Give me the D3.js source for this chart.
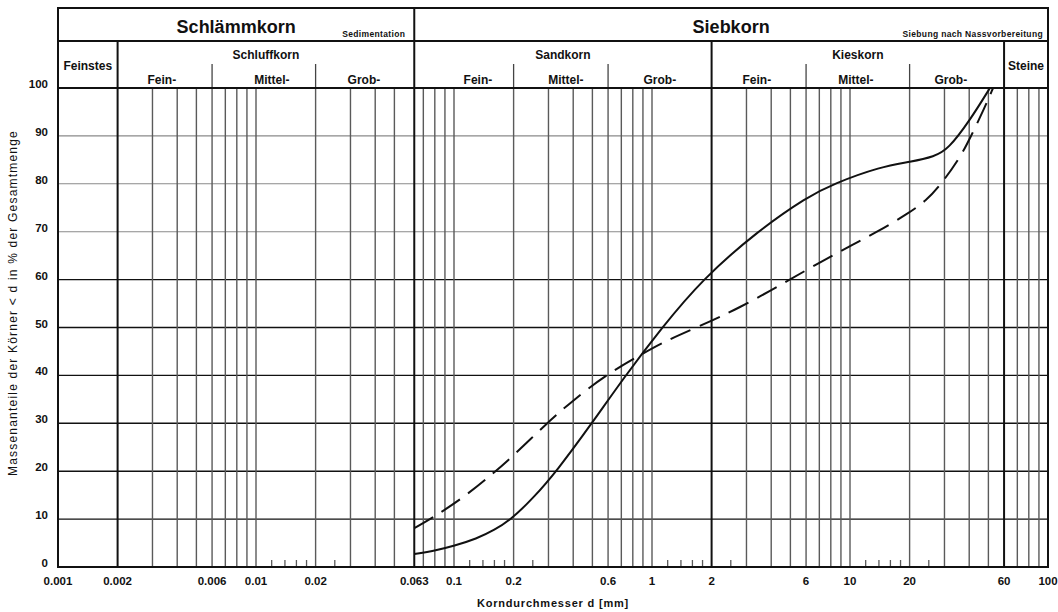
<!DOCTYPE html>
<html>
<head>
<meta charset="utf-8">
<script src="https://cdn.jsdelivr.net/npm/d3@7"></script>
<style>
  body { margin: 0; background: #fff; }
  svg { display: block; }
  text { font-family: "Liberation Sans", Arial, Helvetica, sans-serif; fill: #111; }
</style>
</head>
<body>
<svg id="chart" width="1058" height="612"></svg>
<script>
// Grain size distribution (Körnungslinie): passing mass in % versus diameter in mm

// Curve 1 (solid line)
const solidDiam = [0.063, 0.08, 0.1, 0.13, 0.16, 0.195, 0.25, 0.33, 0.497, 0.72, 1.123, 1.79, 3.38, 6.1, 8.24, 14.3, 20.3, 26.7, 31.3, 40.4, 50.9];
const solidPass = [2.7, 3.4, 4.4, 5.9, 7.7, 10, 14.3, 20, 30, 39.5, 50, 60, 70, 77.3, 80, 83.6, 84.6, 85.7, 87.2, 93.3, 100];

// Curve 2 (dashed line)
const dashDiam = [0.063, 0.0788, 0.109, 0.147, 0.195, 0.295, 0.4, 0.579, 0.9, 1.2, 1.68, 2.75, 4.98, 7.1, 9.9, 13.8, 19.5, 24.3, 28.6, 36, 40.4, 48, 52.8];
const dashPass = [8.1, 10.4, 14.2, 18.5, 22.8, 30.1, 34.8, 40, 44.6, 47.4, 50, 54, 60, 63.7, 66.9, 70, 73.7, 76.5, 79.7, 85.5, 89.5, 96, 100];

// Axis ticks
const xTickLabels = [0.001, 0.002, 0.006, 0.01, 0.02, 0.063, 0.1, 0.2, 0.6, 1, 2, 6, 10, 20, 60, 100];
const yTicks = [0, 10, 20, 30, 40, 50, 60, 70, 80, 90, 100];

// Full-height grid lines, short minor ticks at the bottom, and the heavy class boundaries
const gridDiam = [0.003, 0.004, 0.005, 0.006, 0.007, 0.008, 0.009, 0.01, 0.02, 0.03, 0.04, 0.05,
                  0.07, 0.08, 0.09, 0.1, 0.2, 0.3, 0.4, 0.5, 0.6, 0.7, 0.8, 0.9, 1,
                  3, 4, 5, 6, 7, 8, 9, 10, 20, 30, 40, 50, 70, 80, 90];
const minorDiam = [0.012, 0.014, 0.016, 0.018, 0.025, 0.12, 0.14, 0.16, 0.18, 0.25,
                   1.2, 1.4, 1.6, 1.8, 2.5, 12, 14, 16, 18, 25];
const boundaryDiam = [0.002, 0.063, 2, 60];

// Header: soil classes
const mainClasses = ["Schlämmkorn", "Siebkorn"];
const mainBounds = [[0.001, 0.063], [0.063, 100]];
const methodNotes = ["Sedimentation", "Siebung nach Nassvorbereitung"];
const noteInset = [9, 5];
const groupNames = ["Feinstes", "Schluffkorn", "Sandkorn", "Kieskorn", "Steine"];
const groupBounds = [[0.001, 0.002], [0.002, 0.063], [0.063, 2], [2, 60], [60, 100]];
const subNames = ["Fein-", "Mittel-", "Grob-", "Fein-", "Mittel-", "Grob-", "Fein-", "Mittel-", "Grob-"];
const subBounds = [[0.002, 0.006], [0.006, 0.02], [0.02, 0.063],
                   [0.063, 0.2], [0.2, 0.6], [0.6, 2],
                   [2, 6], [6, 20], [20, 60]];
const subShift = [-3, 8, -1, 14, 5, 0, -2, -2, -6];
const subDividers = [0.006, 0.02, 0.2, 0.6, 6, 20];

const svg = d3.select("#chart");
svg.append("rect").attr("width", 1058).attr("height", 612).attr("fill", "#fff");

const edgeL = 58, edgeR = 1048, edgeT = 8, rowSplit = 41, plotTop = 88, plotBottom = 567;

const x = d3.scaleLog().domain([0.001, 100]).range([edgeL, edgeR]);
const y = d3.scaleLinear().domain([0, 100]).range([plotBottom, plotTop]);

// Horizontal grid
svg.append("g").selectAll("line")
  .data(yTicks.filter(v => v > 0 && v < 100))
  .join("line")
  .attr("x1", edgeL).attr("x2", edgeR)
  .attr("y1", d => y(d)).attr("y2", d => y(d))
  .attr("stroke", d => d >= 70 ? "#8a8a8a" : "#111")
  .attr("stroke-width", d => d >= 70 ? 1.1 : 1.4);

// Vertical grid
svg.append("g").selectAll("line")
  .data(gridDiam)
  .join("line")
  .attr("x1", d => x(d)).attr("x2", d => x(d))
  .attr("y1", plotTop).attr("y2", plotBottom)
  .attr("stroke", "#5a5a5a").attr("stroke-width", 1.4);

// Minor ticks
svg.append("g").selectAll("line")
  .data(minorDiam)
  .join("line")
  .attr("x1", d => x(d)).attr("x2", d => x(d))
  .attr("y1", plotBottom - 7).attr("y2", plotBottom)
  .attr("stroke", "#5a5a5a").attr("stroke-width", 1.3);

// Header sub-dividers
svg.append("g").selectAll("line")
  .data(subDividers)
  .join("line")
  .attr("x1", d => x(d)).attr("x2", d => x(d))
  .attr("y1", 64).attr("y2", plotTop)
  .attr("stroke", "#444").attr("stroke-width", 1.3);

// Class boundaries
svg.append("g").selectAll("line")
  .data(boundaryDiam)
  .join("line")
  .attr("x1", d => x(d)).attr("x2", d => x(d))
  .attr("y1", d => d === 0.063 ? edgeT : rowSplit).attr("y2", plotBottom)
  .attr("stroke", "#111").attr("stroke-width", 2);

// Frame and header rows
const frame = svg.append("g").attr("stroke", "#111").attr("stroke-width", 2).attr("fill", "none");
frame.append("rect").attr("x", edgeL).attr("y", edgeT).attr("width", edgeR - edgeL).attr("height", plotBottom - edgeT);
frame.append("line").attr("x1", edgeL).attr("x2", edgeR).attr("y1", rowSplit).attr("y2", rowSplit);
frame.append("line").attr("x1", edgeL).attr("x2", edgeR).attr("y1", plotTop).attr("y2", plotTop);

// Curves (smoothed B-spline through the read-off points)
const clip = svg.append("clipPath").attr("id", "plot-clip");
clip.append("rect").attr("x", edgeL).attr("y", plotTop - 1).attr("width", edgeR - edgeL).attr("height", plotBottom - plotTop + 1);

const line = d3.line()
  .x(d => x(d[0]))
  .y(d => y(d[1]))
  .curve(d3.curveBasis);

const curves = svg.append("g").attr("clip-path", "url(#plot-clip)").attr("fill", "none")
  .attr("stroke", "#111").attr("stroke-width", 2).attr("stroke-linejoin", "round");
curves.append("path").attr("d", line(d3.zip(solidDiam, solidPass)));
curves.append("path").attr("d", line(d3.zip(dashDiam, dashPass))).attr("stroke-dasharray", "22,10");

// Header texts
const mid = b => (x(b[0]) + x(b[1])) / 2;

svg.append("g").selectAll("text")
  .data(mainClasses)
  .join("text")
  .attr("x", (d, i) => mid(mainBounds[i]))
  .attr("y", 33)
  .attr("text-anchor", "middle")
  .attr("font-size", 18).attr("font-weight", "bold")
  .text(d => d);

svg.append("g").selectAll("text")
  .data(methodNotes)
  .join("text")
  .attr("x", (d, i) => x(mainBounds[i][1]) - noteInset[i])
  .attr("y", 37)
  .attr("text-anchor", "end")
  .attr("font-size", 8.5).attr("font-weight", "bold")
  .attr("letter-spacing", 0.35)
  .text(d => d);

svg.append("g").selectAll("text")
  .data(groupNames)
  .join("text")
  .attr("x", (d, i) => mid(groupBounds[i]))
  .attr("y", (d, i) => (i === 0 || i === 4) ? 70 : 59)
  .attr("text-anchor", "middle")
  .attr("font-size", 12).attr("font-weight", "bold")
  .text(d => d);

svg.append("g").selectAll("text")
  .data(subNames)
  .join("text")
  .attr("x", (d, i) => mid(subBounds[i]) + subShift[i])
  .attr("y", 83.5)
  .attr("text-anchor", "middle")
  .attr("font-size", 12).attr("font-weight", "bold")
  .text(d => d);

// Axis labels
svg.append("g").selectAll("text")
  .data(xTickLabels)
  .join("text")
  .attr("x", d => x(d))
  .attr("y", 585)
  .attr("text-anchor", "middle")
  .attr("font-size", 11.5).attr("font-weight", "bold")
  .text(d => String(d));

svg.append("g").selectAll("text")
  .data(yTicks)
  .join("text")
  .attr("x", 48)
  .attr("y", d => y(d))
  .attr("text-anchor", "end")
  .attr("font-size", 11.5).attr("font-weight", "bold")
  .text(d => d);

svg.append("text")
  .attr("x", (edgeL + edgeR) / 2)
  .attr("y", 607)
  .attr("text-anchor", "middle")
  .attr("font-size", 11).attr("font-weight", "bold")
  .attr("letter-spacing", 0.8)
  .text("Korndurchmesser d [mm]");

svg.append("text")
  .attr("transform", "translate(17,303) rotate(-90)")
  .attr("text-anchor", "middle")
  .attr("font-size", 12)
  .attr("letter-spacing", 1.2)
  .text("Massenanteile der Körner < d in % der Gesamtmenge");
</script>
</body>
</html>
